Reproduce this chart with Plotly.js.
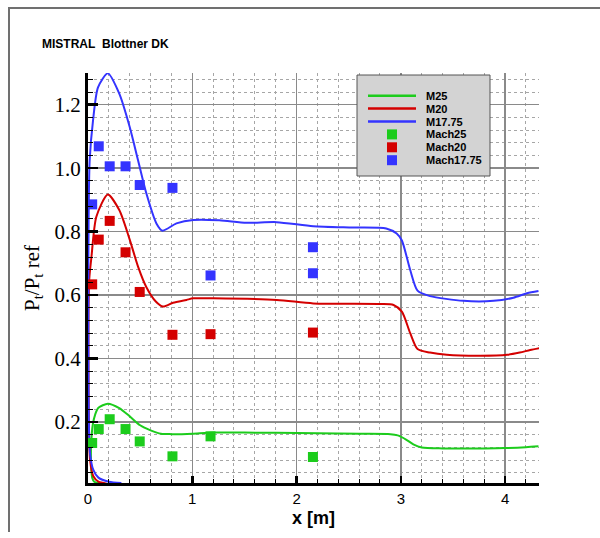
<!DOCTYPE html>
<html>
<head>
<meta charset="utf-8">
<script src="https://cdn.plot.ly/plotly-3.0.1.min.js"></script>
<style>
  html, body { margin: 0; padding: 0; background: #ffffff; }
  #frame { position: absolute; left: 8px; top: 7px; width: 592px; height: 523px;
           border-top: 2px solid #707070; border-left: 2px solid #707070; }
  #chart { position: absolute; left: 0; top: 0; width: 600px; height: 538px; }
</style>
</head>
<body>
<div id="frame"></div>
<div id="chart"></div>
<script>
// ---- computed lines (x [m], Pt/Pt ref) ----
const m25X = [0.16, 0.10, 0.06, 0.04, 0.03, 0.028, 0.03, 0.045, 0.07, 0.10, 0.19, 0.30, 0.40, 0.50, 0.60, 0.70, 0.80, 0.90, 1.00, 1.20, 1.50, 1.80, 2.20, 2.60, 2.90, 2.97, 3.05, 3.12, 3.20, 3.40, 3.80, 4.00, 4.20, 4.32];
const m25Y = [0.006, 0.008, 0.012, 0.025, 0.06, 0.10, 0.13, 0.19, 0.225, 0.245, 0.258, 0.244, 0.218, 0.19, 0.174, 0.163, 0.162, 0.162, 0.163, 0.167, 0.167, 0.166, 0.165, 0.163, 0.162, 0.158, 0.145, 0.13, 0.12, 0.117, 0.117, 0.118, 0.121, 0.124];

const m20X = [0.18, 0.10, 0.05, 0.02, 0.008, 0.004, 0.005, 0.012, 0.033, 0.08, 0.19, 0.30, 0.40, 0.48, 0.56, 0.65, 0.72, 0.816, 0.944, 1.01, 1.20, 1.81, 2.16, 2.80, 2.93, 3.01, 3.09, 3.16, 3.28, 3.44, 3.76, 4.02, 4.14, 4.24, 4.33];
const m20Y = [0.006, 0.012, 0.03, 0.08, 0.20, 0.40, 0.55, 0.65, 0.72, 0.847, 0.917, 0.868, 0.775, 0.69, 0.625, 0.58, 0.564, 0.576, 0.585, 0.59, 0.59, 0.585, 0.574, 0.572, 0.569, 0.548, 0.48, 0.43, 0.419, 0.412, 0.409, 0.412, 0.419, 0.427, 0.433];

const m1775X = [0.32, 0.20, 0.10, 0.05, 0.02, 0.008, 0.004, 0.003, 0.006, 0.016, 0.048, 0.096, 0.19, 0.30, 0.40, 0.48, 0.56, 0.656, 0.714, 0.848, 1.01, 1.26, 1.52, 1.81, 2.16, 2.54, 2.86, 2.96, 3.01, 3.09, 3.16, 3.28, 3.60, 3.89, 4.08, 4.21, 4.32];
const m1775Y = [0.008, 0.012, 0.025, 0.05, 0.10, 0.20, 0.36, 0.60, 0.85, 1.025, 1.15, 1.255, 1.299, 1.235, 1.13, 1.025, 0.92, 0.826, 0.803, 0.826, 0.837, 0.836, 0.828, 0.83, 0.817, 0.813, 0.81, 0.794, 0.772, 0.679, 0.614, 0.597, 0.582, 0.582, 0.592, 0.606, 0.613];

// ---- measurements ----
const mach25X = [0.04, 0.103, 0.208, 0.36, 0.496, 0.81, 1.175, 2.157];
const mach25Y = [0.134, 0.178, 0.209, 0.178, 0.139, 0.092, 0.155, 0.090];

const mach20X = [0.04, 0.103, 0.208, 0.36, 0.496, 0.81, 1.175, 2.157];
const mach20Y = [0.634, 0.775, 0.834, 0.735, 0.610, 0.475, 0.477, 0.482];

const mach1775X = [0.04, 0.103, 0.208, 0.36, 0.496, 0.81, 1.175, 2.157, 2.157];
const mach1775Y = [0.886, 1.069, 1.006, 1.006, 0.947, 0.938, 0.662, 0.751, 0.669];

// ---- legend entries ----
const legendNames = ['M25', 'M20', 'M17.75', 'Mach25', 'Mach20', 'Mach17.75'];

const GREEN = '#1ccc1c', RED = '#d40000', BLUE = '#3434ff';
const legendColors = [GREEN, RED, BLUE, GREEN, RED, BLUE];
const legendKinds = ['line', 'line', 'line', 'square', 'square', 'square'];

const SPL = {shape: 'spline', smoothing: 0.7};
const traces = [
  {x: m25X, y: m25Y, name: legendNames[0], mode: 'lines', line: Object.assign({color: GREEN, width: 2}, SPL)},
  {x: m20X, y: m20Y, name: legendNames[1], mode: 'lines', line: Object.assign({color: RED, width: 2}, SPL)},
  {x: m1775X, y: m1775Y, name: legendNames[2], mode: 'lines', line: Object.assign({color: BLUE, width: 2}, SPL)},
  {x: mach25X, y: mach25Y, name: legendNames[3], mode: 'markers', marker: {symbol: 'square', size: 10, color: GREEN}},
  {x: mach20X, y: mach20Y, name: legendNames[4], mode: 'markers', marker: {symbol: 'square', size: 10, color: RED}},
  {x: mach1775X, y: mach1775Y, name: legendNames[5], mode: 'markers', marker: {symbol: 'square', size: 10, color: BLUE}}
];

// plot area in pixels: left 88, right 539, top 73, bottom 483
const PL = 88, PR = 539, PT = 73, PB = 483;
const px2x = p => (p - PL) / (PR - PL);
const py2y = p => (PB - p) / (PB - PT);

const shapes = [{
  type: 'rect', xref: 'paper', yref: 'paper',
  x0: px2x(357), x1: px2x(490), y0: py2y(176), y1: py2y(75),
  fillcolor: '#d3d3d3', line: {color: '#555555', width: 1}, layer: 'above'
}];
const annotations = [];
legendNames.forEach((name, i) => {
  const cy = 95.7 + i * 12.9;
  if (legendKinds[i] === 'line') {
    shapes.push({type: 'line', xref: 'paper', yref: 'paper',
      x0: px2x(368), x1: px2x(416), y0: py2y(cy), y1: py2y(cy),
      line: {color: legendColors[i], width: 2.5}, layer: 'above'});
  } else {
    shapes.push({type: 'rect', xref: 'paper', yref: 'paper',
      x0: px2x(387), x1: px2x(397), y0: py2y(cy + 5), y1: py2y(cy - 5),
      fillcolor: legendColors[i], line: {width: 0}, layer: 'above'});
  }
  annotations.push({xref: 'paper', yref: 'paper', x: px2x(424), y: py2y(cy),
    xanchor: 'left', yanchor: 'middle', showarrow: false, text: name,
    font: {family: 'Liberation Sans, Arial, sans-serif', size: 11, color: '#000', weight: 'bold'}});
});

const layout = {
  width: 600, height: 538,
  margin: {l: 88, r: 61, t: 73, b: 55},
  paper_bgcolor: 'rgba(0,0,0,0)',
  plot_bgcolor: 'rgba(0,0,0,0)',
  showlegend: false,
  shapes: shapes,
  annotations: annotations,
  title: {
    text: 'MISTRAL\u00a0 Blottner DK',
    font: {family: 'Liberation Sans, Arial, sans-serif', size: 12, color: '#000', weight: 'bold'},
    x: 0.07, xanchor: 'left', xref: 'container',
    y: 0.918, yanchor: 'middle', yref: 'container'
  },
  xaxis: {
    range: [0, 4.325], tick0: 0, dtick: 1,
    showline: true, linecolor: '#000', linewidth: 3,
    ticks: 'inside', ticklen: 7, tickwidth: 2.5, tickcolor: '#000',
    showgrid: true, gridcolor: '#8a8a8a', gridwidth: 1.5,
    zeroline: false,
    tickfont: {family: 'Liberation Sans, Arial, sans-serif', size: 15, color: '#000'},
    title: {text: 'x [m]', standoff: 6,
            font: {family: 'Liberation Sans, Arial, sans-serif', size: 18, color: '#000', weight: 'bold'}},
    minor: {dtick: 0.2, showgrid: true, gridcolor: '#a6a6a6', gridwidth: 1, griddash: 'dot',
            ticks: 'inside', ticklen: 4, tickcolor: '#000', tickwidth: 1}
  },
  yaxis: {
    range: [0.008, 1.3], tick0: 0, dtick: 0.2, tickformat: '.1f',
    showline: true, linecolor: '#000', linewidth: 3,
    ticks: 'inside', ticklen: 10, tickwidth: 2.5, tickcolor: '#000',
    showgrid: true, gridcolor: '#8a8a8a', gridwidth: 1.5,
    zeroline: false,
    tickfont: {family: 'Liberation Serif, Times New Roman, serif', size: 21, color: '#000'},
    title: {text: 'P<sub>t</sub>/P<sub>t</sub> ref', standoff: 10,
            font: {family: 'Liberation Serif, Times New Roman, serif', size: 21, color: '#000'}},
    minor: {dtick: 0.04, showgrid: true, gridcolor: '#a6a6a6', gridwidth: 1, griddash: 'dot',
            ticks: 'inside', ticklen: 5, tickcolor: '#000', tickwidth: 1}
  }
};

Plotly.newPlot('chart', traces, layout, {displayModeBar: false, staticPlot: true});
</script>
</body>
</html>
